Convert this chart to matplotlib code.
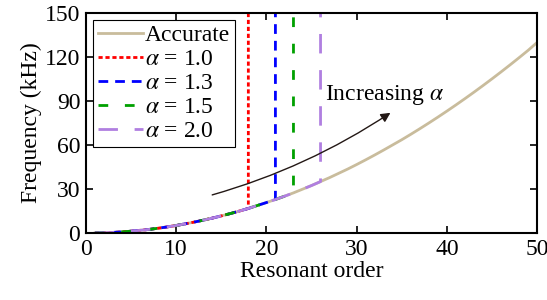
import matplotlib.pyplot as plt
import numpy as np

plt.rcParams['font.family'] = 'serif'
plt.rcParams['font.serif'] = ['Liberation Serif', 'Times New Roman', 'DejaVu Serif']
plt.rcParams['mathtext.fontset'] = 'stix'

# resonant order and accurate frequency (kHz)
orders = list(range(1, 51))
accurate = [0.05, 0.2, 0.47, 0.83, 1.3, 1.9, 2.5, 3.3, 4.2, 5.2,
            6.3, 7.5, 8.8, 10.2, 11.7, 13.3, 15.0, 16.8, 18.8, 20.8,
            22.9, 25.1, 27.4, 29.9, 32.4, 35.1, 37.8, 40.7, 43.6, 46.7,
            49.9, 53.2, 56.6, 60.1, 63.6, 67.3, 71.1, 75.0, 79.0, 83.1,
            87.3, 91.6, 96.0, 100.5, 105.1, 109.8, 114.6, 119.5, 124.5, 129.9]

alphas = ["1.0", "1.3", "1.5", "2.0"]
cutoff_orders = [18, 21, 23, 26]   # approximation diverges after this order
diverged_value = 150               # drawn up to top of the axes

colors = ["#ff0000", "#0000ff", "#00a000", "#b07fe0"]
dashes = [(1.5, 1), (3.5, 2.5), (3.5, 6), (7, 6)]

fig = plt.figure(figsize=(5.47, 3.0), dpi=100)
ax = fig.add_axes([0.157, 0.223, 0.825, 0.734])

ax.plot(orders, accurate, color="#c9bc9c", lw=2, label="Accurate")

for a, nc, c, d in zip(alphas, cutoff_orders, colors, dashes):
    x = orders[:nc] + [nc]
    y = accurate[:nc] + [diverged_value]
    ax.plot(x, y, color=c, lw=2, dashes=d, label=r"$\alpha$ = " + a)

ax.annotate("", xy=(34, 83), xytext=(13.7, 25.5),
            arrowprops=dict(arrowstyle="-|>", color="#231815", lw=1,
                            connectionstyle="arc3,rad=0.08",
                            mutation_scale=14))
ax.text(26.5, 94, r"Increasing $\alpha$", fontsize=17, va="center")

ax.set_xlim(0, 50)
ax.set_ylim(0, 150)
ax.set_xticks(range(0, 51, 10))
ax.set_yticks(range(0, 151, 30))
ax.tick_params(direction="in", top=True, right=True, labelsize=17,
               length=5, width=1.2, pad=4)
for s in ax.spines.values():
    s.set_linewidth(1.5)
ax.set_xlabel("Resonant order", fontsize=17, labelpad=1)
ax.set_ylabel("Frequency (kHz)", fontsize=17, labelpad=2)

leg = ax.legend(loc="upper left", fontsize=17, fancybox=False,
                handlelength=1.9, handletextpad=0.1, borderpad=0.2,
                labelspacing=0.1, borderaxespad=0.3, framealpha=1)
leg.get_frame().set_edgecolor("black")
leg.get_frame().set_linewidth(0.8)

fig.savefig("out.png", dpi=100)
